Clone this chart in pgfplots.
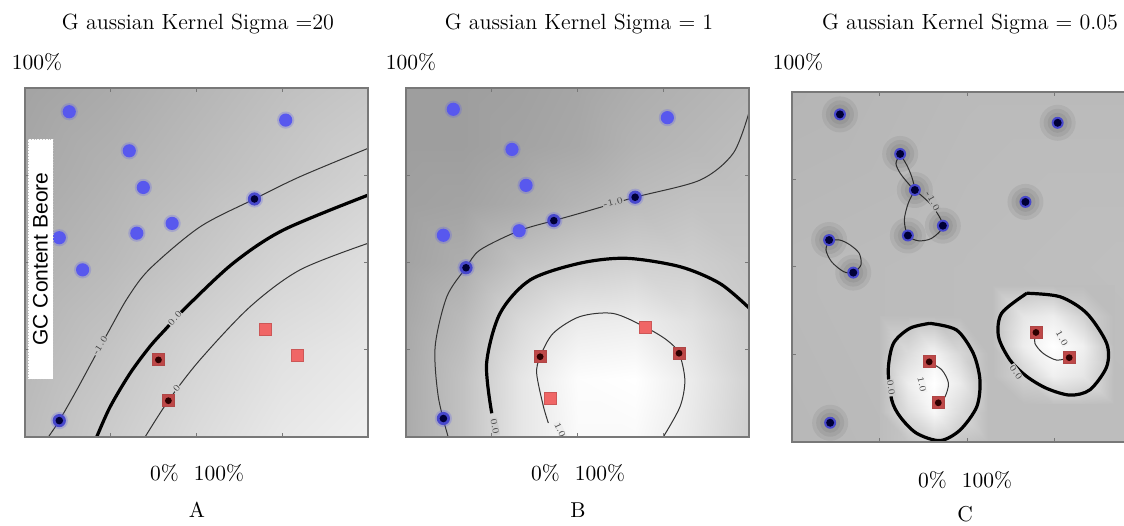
\documentclass[border=0pt]{standalone}
\usepackage{fontspec}
\usepackage{pgfplots}
\usepackage{pgfplotstable}
\pgfplotsset{compat=1.18}
\newfontfamily\arialfont{Liberation Sans}
\definecolor{blueL}{RGB}{88,88,238}
\definecolor{blueR}{RGB}{72,72,205}
\definecolor{navy}{RGB}{0,0,55}
\definecolor{redL}{RGB}{240,102,102}
\definecolor{redB}{RGB}{175,70,70}
\definecolor{redSV}{RGB}{190,72,72}
\definecolor{darkred}{RGB}{45,0,0}
\definecolor{frame}{RGB}{120,120,120}
\tikzset{lab/.style={font=\fontsize{4.5}{5}\selectfont, text=black!75, inner sep=0.3pt}}
\pgfplotsset{
 panel/.style={scale only axis, anchor=south west, xmin=0,xmax=1,ymin=0,ymax=1,
   axis on top, xtick={0.25,0.5,0.75}, ytick={0.25,0.5,0.75},
   xticklabels={,,}, yticklabels={,,}, tick align=inside, major tick length=2pt,
   every tick/.style={frame, line width=0.5pt}, axis line style={frame, line width=0.7pt},
   colormap={bw}{gray(0cm)=(0); gray(1cm)=(1)}, point meta min=0, point meta max=1},
 pBlue/.style={only marks, mark=*, mark size=3.3pt, mark options={draw=blueL, draw opacity=0, fill=blueL}},
 pBlueHalo/.style={only marks, mark=*, mark size=4.3pt, mark options={draw=blueL, draw opacity=0, fill=blueL, fill opacity=0.25}},
 pBlueRing/.style={only marks, mark=*, mark size=3.3pt, mark options={draw=blueR, draw opacity=0, fill=blueR}},
 pNavy/.style={only marks, mark=*, mark size=1.9pt, mark options={draw=navy, draw opacity=0, fill=navy}},
 pRed/.style={only marks, mark=square*, mark size=3pt, mark options={fill=redL, draw=redL!85!black, line width=0.4pt}},
 pRedSV/.style={only marks, mark=square*, mark size=3pt, mark options={fill=redSV, draw=redB, line width=0.4pt}},
 pDark/.style={only marks, mark=*, mark size=1.7pt, mark options={draw=darkred, draw opacity=0, fill=darkred}},
 halo/.style={only marks, mark=*, mark size=#1, mark options={draw=black, draw opacity=0, fill=black, fill opacity=0.06}},
 thin line/.style={smooth, line width=0.5pt, black!80},
 thick line/.style={smooth, line width=1.6pt, black},
}
% ---------- Panel A ----------
\pgfplotstableread{
x y g
0 0 0.74
0.25 0 0.80
0.5 0 0.86
0.75 0 0.91
1 0 0.94
0 0.25 0.72
0.25 0.25 0.77
0.5 0.25 0.83
0.75 0.25 0.88
1 0.25 0.91
0 0.5 0.69
0.25 0.5 0.73
0.5 0.5 0.78
0.75 0.5 0.83
1 0.5 0.87
0 0.75 0.66
0.25 0.75 0.70
0.5 0.75 0.74
0.75 0.75 0.78
1 0.75 0.82
0 1 0.64
0.25 1 0.67
0.5 1 0.71
0.75 1 0.75
1 1 0.78
}\Abg
\pgfplotstableread{
x y
0.129 0.932
0.760 0.908
0.304 0.820
0.345 0.715
0.429 0.612
0.326 0.584
0.100 0.571
0.168 0.479
}\ABl
\pgfplotstableread{
x y
0.669 0.682
0.100 0.047
}\ABsv
\pgfplotstableread{
x y
0.700 0.309
0.795 0.235
}\ARl
\pgfplotstableread{
x y
0.389 0.221
0.418 0.104
}\ARsv
\pgfplotstableread{
x y
0.068 0
0.100 0.047
0.151 0.135
0.195 0.215
0.248 0.310
0.300 0.400
0.364 0.482
0.510 0.602
0.669 0.682
0.802 0.746
1.0 0.827
}\AcM
\pgfplotstableread{
x y
0.209 0
0.248 0.086
0.306 0.182
0.364 0.259
0.408 0.307
0.471 0.373
0.607 0.498
0.753 0.593
1.0 0.693
}\AcZ
\pgfplotstableread{
x y
0.350 0
0.418 0.104
0.510 0.221
0.656 0.373
0.802 0.479
1.0 0.555
}\AcP
% ---------- Panel B ----------
\pgfplotstableread{
x y g
0 0 0.67
0.1667 0 0.76
0.3333 0 0.90
0.5 0 0.98
0.6667 0 0.98
0.8333 0 0.91
1 0 0.81
0 0.1667 0.67
0.1667 0.1667 0.76
0.3333 0.1667 0.90
0.5 0.1667 0.99
0.6667 0.1667 1.00
0.8333 0.1667 0.92
1 0.1667 0.82
0 0.3333 0.66
0.1667 0.3333 0.73
0.3333 0.3333 0.85
0.5 0.3333 0.92
0.6667 0.3333 0.93
0.8333 0.3333 0.88
1 0.3333 0.80
0 0.5 0.64
0.1667 0.5 0.68
0.3333 0.5 0.76
0.5 0.5 0.80
0.6667 0.5 0.82
0.8333 0.5 0.81
1 0.5 0.78
0 0.6667 0.63
0.1667 0.6667 0.64
0.3333 0.6667 0.67
0.5 0.6667 0.71
0.6667 0.6667 0.74
0.8333 0.6667 0.76
1 0.6667 0.76
0 0.8333 0.62
0.1667 0.8333 0.62
0.3333 0.8333 0.64
0.5 0.8333 0.66
0.6667 0.8333 0.70
0.8333 0.8333 0.72
1 0.8333 0.74
0 1 0.62
0.1667 1 0.62
0.3333 1 0.63
0.5 1 0.65
0.6667 1 0.68
0.8333 1 0.70
1 1 0.72
}\Bbg
\pgfplotstableread{
x y
0.138 0.939
0.762 0.915
0.309 0.824
0.350 0.721
0.109 0.578
0.330 0.591
}\BBl
\pgfplotstableread{
x y
0.431 0.620
0.668 0.687
0.175 0.485
0.109 0.053
}\BBsv
\pgfplotstableread{
x y
0.699 0.314
0.422 0.111
}\BRl
\pgfplotstableread{
x y
0.391 0.230
0.796 0.240
}\BRsv
\pgfplotstableread{
x y
1.0 0.930
0.954 0.813
0.857 0.736
0.668 0.687
0.507 0.641
0.431 0.620
0.330 0.591
0.216 0.536
0.175 0.485
0.119 0.402
0.085 0.259
0.094 0.116
0.123 0
}\BcM
\pgfplotstableread{
x y
0.250 0.068
0.235 0.211
0.274 0.354
0.362 0.450
0.507 0.498
0.643 0.512
0.799 0.488
0.915 0.440
1.0 0.370
}\BcZ
\pgfplotstableread{
x y
0.415 0.040
0.400 0.090
0.381 0.182
0.391 0.230
0.429 0.297
0.507 0.345
0.604 0.354
0.699 0.314
0.760 0.278
0.796 0.240
0.813 0.163
0.799 0.087
0.750 0
}\BcP
% ---------- Panel C ----------
\pgfplotstableread{
x y g
0 0 0.72
0.5 0 0.74
1 0 0.74
0 0.5 0.73
0.5 0.5 0.74
1 0.5 0.75
0 1 0.71
0.5 1 0.73
1 1 0.73
}\Cbg
\pgfplotstableread{
x y g
0.25 0 0.74
0.33 0 0.77
0.405 0 0.82
0.48 0 0.77
0.56 0 0.74
0.25 0.085 0.74
0.33 0.085 0.87
0.405 0.085 0.97
0.48 0.085 0.86
0.56 0.085 0.74
0.25 0.17 0.74
0.33 0.17 0.93
0.405 0.17 1.00
0.48 0.17 0.92
0.56 0.17 0.74
0.25 0.255 0.74
0.33 0.255 0.86
0.405 0.255 0.95
0.48 0.255 0.84
0.56 0.255 0.74
0.25 0.36 0.74
0.33 0.36 0.74
0.405 0.36 0.74
0.48 0.36 0.74
0.56 0.36 0.74
}\CblobL
\pgfplotstableread{
x y g
0.57 0.11 0.74
0.66 0.11 0.74
0.745 0.11 0.75
0.83 0.11 0.75
0.92 0.11 0.74
0.57 0.19 0.74
0.66 0.19 0.82
0.745 0.19 0.94
0.83 0.19 0.90
0.92 0.19 0.74
0.57 0.275 0.74
0.66 0.275 0.93
0.745 0.275 1.00
0.83 0.275 0.94
0.92 0.275 0.74
0.57 0.36 0.74
0.66 0.36 0.90
0.745 0.36 0.93
0.83 0.36 0.82
0.92 0.36 0.74
0.57 0.45 0.74
0.66 0.45 0.74
0.745 0.45 0.74
0.83 0.45 0.74
0.92 0.45 0.74
}\CblobR
\pgfplotstableread{
x y
0.137 0.936
0.759 0.912
0.309 0.823
0.351 0.720
0.431 0.618
0.331 0.590
0.667 0.686
0.106 0.577
0.175 0.484
0.109 0.055
}\CB
\pgfplotstableread{
x y
0.392 0.229
0.418 0.112
0.697 0.313
0.792 0.241
}\CR
\pgfplotstableread{
x y
0.309 0.823
0.297 0.796
0.309 0.768
0.332 0.739
0.351 0.720
0.342 0.758
0.328 0.791
0.309 0.823
}\CloopA
\pgfplotstableread{
x y
0.351 0.720
0.332 0.682
0.321 0.634
0.331 0.590
0.361 0.575
0.399 0.582
0.431 0.618
0.400 0.675
0.351 0.720
}\CloopB
\pgfplotstableread{
x y
0.106 0.577
0.097 0.549
0.113 0.515
0.147 0.487
0.175 0.484
0.197 0.506
0.192 0.539
0.166 0.563
0.137 0.577
0.106 0.577
}\CloopC
\pgfplotstableread{
x y
0.392 0.229
0.428 0.206
0.447 0.168
0.437 0.129
0.418 0.112
}\CarcL
\pgfplotstableread{
x y
0.697 0.313
0.694 0.282
0.718 0.253
0.756 0.234
0.792 0.241
}\CarcR
\pgfplotstableread{
x y
0.394 0.339
0.470 0.320
0.518 0.253
0.537 0.177
0.528 0.101
0.480 0.034
0.423 0.004
0.356 0.025
0.309 0.072
0.285 0.120
0.275 0.206
0.290 0.282
0.337 0.325
0.394 0.339
}\CzL
\pgfplotstableread{
x y
0.671 0.425
0.766 0.415
0.842 0.368
0.899 0.282
0.899 0.215
0.851 0.149
0.794 0.134
0.728 0.153
0.671 0.187
0.623 0.234
0.590 0.301
0.599 0.368
0.671 0.425
}\CzR
\begin{document}
\begin{tikzpicture}
% ===== Panel A =====
\begin{axis}[panel, at={(12.5pt,44pt)}, width=171.5pt, height=174.5pt]
\addplot[surf, shader=interp, mesh/cols=5, point meta=explicit] table[meta=g] {\Abg};
\addplot[thin line] table {\AcM};
\addplot[thick line] table {\AcZ};
\addplot[thin line] table {\AcP};
\node[lab, fill=black!24, rotate=57] at (axis cs:0.219,0.262) {-1.0};
\node[lab, fill=black!20, rotate=48] at (axis cs:0.437,0.340) {0.0};
\node[lab, fill=black!17, rotate=50] at (axis cs:0.442,0.140) {0};
\addplot[pBlueHalo] table {\ABl};
\addplot[pBlue] table {\ABl};
\addplot[pBlueHalo] table {\ABsv};
\addplot[pBlueRing] table {\ABsv};
\addplot[pNavy] table {\ABsv};
\addplot[pRed] table {\ARl};
\addplot[pRedSV] table {\ARsv};
\addplot[pDark] table {\ARsv};
\end{axis}
% ===== Panel B =====
\begin{axis}[panel, at={(203pt,44pt)}, width=171.5pt, height=174.5pt]
\addplot[surf, shader=interp, mesh/cols=7, point meta=explicit] table[meta=g] {\Bbg};
\addplot[thin line] table {\BcM};
\addplot[thick line] table {\BcZ};
\addplot[thin line] table {\BcP};
\node[lab, fill=black!28, rotate=15] at (axis cs:0.604,0.672) {-1.0};
\node[lab, fill=black!20, rotate=-80] at (axis cs:0.259,0.030) {0.0};
\node[lab, fill=black!7, rotate=-65] at (axis cs:0.449,0.020) {1.0};
\addplot[pBlueHalo] table {\BBl};
\addplot[pBlue] table {\BBl};
\addplot[pBlueHalo] table {\BBsv};
\addplot[pBlueRing] table {\BBsv};
\addplot[pNavy] table {\BBsv};
\addplot[pRed] table {\BRl};
\addplot[pRedSV] table {\BRsv};
\addplot[pDark] table {\BRsv};
\end{axis}
% ===== Panel C =====
\begin{axis}[panel, at={(396pt,41.5pt)}, width=175pt, height=175pt]
\addplot[surf, shader=interp, mesh/cols=3, point meta=explicit] table[meta=g] {\Cbg};
\addplot[surf, shader=interp, mesh/cols=5, point meta=explicit] table[meta=g] {\CblobL};
\addplot[surf, shader=interp, mesh/cols=5, point meta=explicit] table[meta=g] {\CblobR};
\addplot[halo=9pt] table {\CB};
\addplot[halo=7pt] table {\CB};
\addplot[halo=5pt] table {\CB};
\addplot[thin line] table {\CloopA};
\addplot[thin line] table {\CloopB};
\addplot[thin line] table {\CloopC};
\addplot[thin line] table {\CarcL};
\addplot[thin line] table {\CarcR};
\addplot[thick line] table {\CzL};
\addplot[thick line] table {\CzR};
\node[lab, fill=black!28, rotate=-60] at (axis cs:0.402,0.688) {-1.0};
\node[lab, fill=black!20, rotate=-82] at (axis cs:0.283,0.155) {0.0};
\node[lab, fill=black!20, rotate=-55] at (axis cs:0.640,0.200) {0.0};
\node[lab, fill=black!5, rotate=-78] at (axis cs:0.371,0.165) {1.0};
\node[lab, fill=black!5, rotate=-60] at (axis cs:0.771,0.296) {1.0};
\addplot[pBlueRing, mark size=3pt] table {\CB};
\addplot[pNavy, mark size=2pt] table {\CB};
\addplot[pRedSV] table {\CR};
\addplot[pDark] table {\CR};
\end{axis}
% ===== Texts =====
\begin{scope}[every node/.style={font=\fontsize{11}{13}\selectfont, inner sep=0pt}]
\node at (99pt,250.5pt) {G aussian Kernel Sigma =20};
\node at (289.5pt,250.5pt) {G aussian Kernel Sigma = 1};
\node at (485pt,250.5pt) {G aussian Kernel Sigma = 0.05};
\end{scope}
\begin{scope}[every node/.style={font=\fontsize{10.75}{13}\selectfont, inner sep=0pt}]
\node at (18.5pt,231.5pt) {100\%};
\node at (205.5pt,231.5pt) {100\%};
\node at (399pt,231.5pt) {100\%};
\node at (98.5pt,26pt) {0\%\hspace{0.7em}100\%};
\node at (289pt,26pt) {0\%\hspace{0.7em}100\%};
\node at (482.5pt,22.5pt) {0\%\hspace{0.7em}100\%};
\node at (98.5pt,7.5pt) {A};
\node at (289pt,7.5pt) {B};
\node at (482.5pt,5.5pt) {C};
\end{scope}
\node[rotate=90, fill=white, draw=black!25, densely dotted, minimum width=120pt, minimum height=12.5pt, inner sep=0pt, font=\arialfont\fontsize{10.5}{12}\selectfont] at (20.25pt,133pt) {GC Content Beore};
\pgfresetboundingbox
\path[use as bounding box] (0,0) rectangle (562pt,262.5pt);
\end{tikzpicture}
\end{document}
